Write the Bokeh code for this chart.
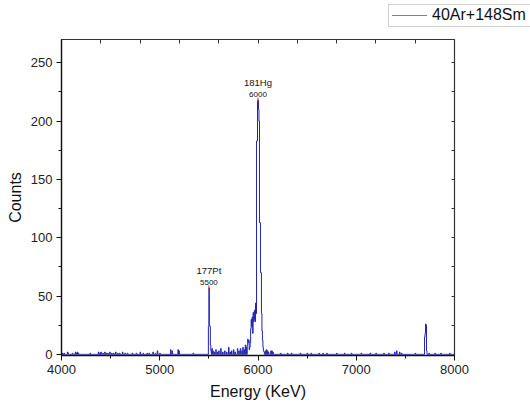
import numpy as np
from bokeh.plotting import figure
from bokeh.layouts import column
from bokeh.models import Range1d, LinearAxis, FixedTicker, ColumnDataSource, Div
from bokeh.core.properties import value
from bokeh.embed import file_html
from bokeh.resources import INLINE

# ---- data ----
bin_width = 5
x_start, x_end = 4000, 8000
nz_energy = [4010, 4025, 4060, 4065, 4110, 4140, 4150, 4160, 4170, 4290, 4375, 4390, 4400, 4420,
             4440, 4455, 4470, 4490, 4510, 4530, 4550, 4570, 4590, 4620, 4645, 4670, 4720, 4760,
             4800, 4830, 4870, 4890, 4930, 4955, 4975, 5000, 5110, 5125, 5185, 5195, 5340,
             5495, 5500, 5505, 5510, 5515, 5520, 5530, 5540, 5555, 5570, 5585, 5600, 5620, 5640,
             5660, 5680, 5700, 5715, 5730, 5750, 5765, 5790, 5805, 5820, 5835, 5845, 5860, 5870,
             5880, 5890, 5895, 5900, 5905, 5910, 5915, 5920, 5925, 5930, 5935, 5940, 5945, 5950,
             5955, 5960, 5965, 5970, 5975, 5980, 5985, 5990, 5995, 6000, 6005, 6010, 6015, 6020,
             6025, 6030, 6035, 6040, 6045, 6050, 6055, 6060, 6075, 6085, 6095, 6105, 6130, 6140,
             6150, 6230, 6300, 6340, 6430, 6500, 6540, 6620, 6660, 6700, 6800, 6880, 6950, 7050,
             7140, 7200, 7280, 7330, 7390, 7410, 7440, 7460, 7600, 7695, 7700, 7705, 7710, 7715,
             7740, 7800, 7860, 7950]
nz_counts = [1, 1, 2, 1, 1, 2, 1, 2, 1, 1, 2, 1, 2, 1,
             2, 1, 1, 2, 1, 1, 2, 1, 1, 2, 1, 1, 1, 1,
             2, 1, 1, 1, 2, 1, 3, 1, 4, 3, 4, 3, 1,
             24, 57, 25, 24, 8, 3, 5, 3, 2, 4, 2, 3, 5, 2,
             3, 2, 6, 2, 3, 4, 2, 5, 3, 5, 3, 6, 4, 8,
             6, 8, 13, 10, 12, 4, 6, 10, 22, 30, 24, 32, 18, 36,
             28, 30, 38, 28, 44, 35, 183, 183, 218, 218, 210, 200, 113, 113,
             70, 70, 35, 20, 12, 6, 3, 2, 3, 4, 3, 2, 3, 3,
             2, 1, 1, 1, 1, 1, 1, 1, 1, 1, 1, 1, 1, 1,
             1, 1, 1, 1, 2, 3, 2, 1, 1, 15, 18, 26, 25, 3,
             1, 1, 1, 1]
series_name = "40Ar+148Sm"
peak_energy = [5500, 6000]
peak_counts = [57, 218]
peak_nuclide = ["177Pt", "181Hg"]
peak_text = ["5500", "6000"]
x_ticks = [4000, 5000, 6000, 7000, 8000]
x_minor = [4500, 5500, 6500, 7500]
y_ticks = [0, 50, 100, 150, 200, 250]
y_minor = [25, 75, 125, 175, 225]
top_marks = [4400, 4800, 5200, 5600, 6000, 6400, 6800, 7200, 7600]
right_marks = [25, 50, 75, 100, 125, 150, 175, 200, 225, 250]

# full histogram built from the nonzero bins
edges = np.arange(x_start, x_end + bin_width, bin_width)
counts = np.zeros(len(edges))
for e, c in zip(nz_energy, nz_counts):
    counts[(e - x_start) // bin_width] = c

line_color = "#2323b8"
legend_line_color = "#7878c8"

# ---- legend strip above the chart (outside the plot frame, as in the reference) ----
legend_html = (
    '<div style="margin-left:388px; margin-top:4px; width:142px; height:23px; '
    'border:1px solid #d0d0d0; border-right:none; box-sizing:border-box; display:flex; '
    'align-items:center; white-space:nowrap; background:white;">'
    '<span style="display:inline-block; width:35px; height:0; border-top:1px solid '
    + legend_line_color + '; margin:0 5px 0 3px;"></span>'
    '<span style="font-family:\'Liberation Sans\'; font-size:16px; color:#111111;">'
    + series_name + '</span></div>'
)
lg = Div(text=legend_html, width=530, height=30, margin=0)

# ---- main chart ----
p = figure(width=530, height=378, x_range=Range1d(x_start, x_end), y_range=Range1d(-1, 270),
           output_backend="svg", toolbar_location=None,
           min_border_left=61, min_border_right=76, min_border_top=9, min_border_bottom=53,
           x_axis_label="Energy (KeV)", y_axis_label="Counts", margin=0)
p.grid.visible = False
p.outline_line_color = "#333333"
p.outline_line_width = 1.2
p.background_fill_color = "white"
p.border_fill_color = "white"

r = p.step(edges, counts, mode="after", line_color=line_color, line_width=1)

# peak markers and labels
src = ColumnDataSource(dict(x=peak_energy, y=peak_counts, nuc=peak_nuclide, t=peak_text))
p.scatter("x", "y", source=src, marker="dash", angle=np.pi / 2, size=5, line_color="#e03030",
          line_width=1)
p.text("x", "y", text="t", source=src, text_align="center", text_baseline="bottom",
       y_offset=-3, text_font=value("Liberation Sans"), text_font_size="8px", text_color="#111111")
p.text("x", "y", text="nuc", source=src, text_align="center", text_baseline="bottom",
       y_offset=-12, text_font=value("Liberation Sans"), text_font_size="9.5px", text_color="#111111")

# axes styling
for ax in (p.xaxis[0], p.yaxis[0]):
    ax.axis_line_color = "#111111"
    ax.axis_line_width = 1.3
    ax.major_tick_line_color = "#111111"
    ax.minor_tick_line_color = "#111111"
    ax.major_tick_out = 5
    ax.major_tick_in = 0
    ax.minor_tick_out = 3
    ax.minor_tick_in = 0
    ax.major_label_text_font = "Liberation Sans"
    ax.major_label_text_font_size = "13px"
    ax.major_label_text_color = "#222222"
    ax.axis_label_text_font = "Liberation Sans"
    ax.axis_label_text_font_size = "16px"
    ax.axis_label_text_font_style = "normal"
    ax.axis_label_text_color = "#111111"
    ax.major_label_standoff = 4
    ax.axis_label_standoff = 6

p.xaxis[0].ticker = FixedTicker(ticks=x_ticks, minor_ticks=x_minor)
p.yaxis[0].ticker = FixedTicker(ticks=y_ticks, minor_ticks=y_minor)
p.yaxis[0].axis_label_standoff = 4


def tick_only_axis(tick_values, length):
    # an unlabeled mirror axis: only (minor) tick marks pointing into the frame
    return LinearAxis(ticker=FixedTicker(ticks=[], minor_ticks=tick_values),
                      minor_tick_in=length, minor_tick_out=0, major_tick_in=0, major_tick_out=0,
                      axis_line_color=None, minor_tick_line_color="#333333",
                      major_label_standoff=0)


p.add_layout(tick_only_axis(top_marks, 4), "above")
p.add_layout(tick_only_axis(right_marks, 3), "right")

page = column(lg, p, spacing=0)
open("out.html", "w").write(file_html(page, INLINE))
